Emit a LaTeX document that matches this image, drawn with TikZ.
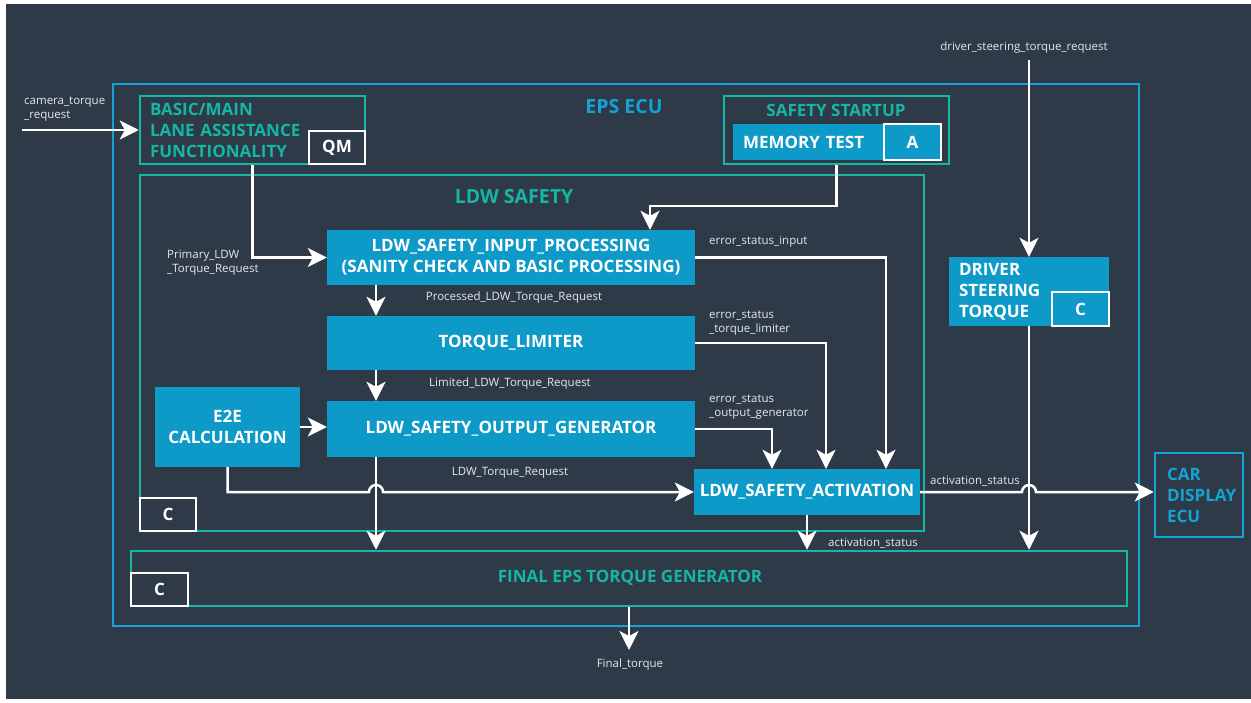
\documentclass[tikz,border=0pt]{standalone}
\usepackage{fontspec}
\setmainfont{Open Sans}
\usetikzlibrary{arrows.meta}
\pgfdeclarelayer{bg}
\pgfsetlayers{bg,main}
\definecolor{slate}{HTML}{2E3A48}
\definecolor{ecublue}{HTML}{13A3D5}
\definecolor{tealc}{HTML}{16B6A4}
\definecolor{fillblue}{HTML}{0E9AC8}
\definecolor{sigc}{HTML}{E6E8EA}
\newcommand{\blockfont}{\fontsize{17}{21}\selectfont\bfseries}
\newcommand{\headfont}{\fontsize{19.5}{23}\selectfont\bfseries}
\newcommand{\sigfont}{\fontsize{11.5}{14}\selectfont}
\tikzset{
  block/.style={fill=fillblue, text=white, font=\blockfont, inner sep=0pt, align=center},
  frame/.style={draw=tealc, line width=2.5pt, inner sep=0pt},
  ecuframe/.style={draw=ecublue, line width=2.5pt, inner sep=0pt},
  title/.style={text=tealc, font=\blockfont, inner sep=0pt},
  grade/.style={draw=white, line width=2.5pt, text=white, font=\blockfont, inner sep=0pt},
  sig/.style={text=sigc, font=\sigfont, inner sep=0pt, align=left},
  wire/.style={draw=white, line width=2.5pt, -{Stealth[length=19pt,width=19pt,inset=5pt]}},
}
\begin{document}
\begin{tikzpicture}[x=1pt, y=-1pt]
        \useasboundingbox (0,0) rectangle (1251,703);
        \begin{pgfonlayer}{bg}
                \fill[slate] (6,4) rectangle (1251,699);
        \end{pgfonlayer}
        % outer ECU and containers
        \node (eps) [ecuframe, minimum width=1026pt, minimum height=542pt] at (626,355) {};
        \node (epst) [text=ecublue, font=\headfont, inner sep=0pt] at (624,107) {EPS ECU};
        \node (ldw) [frame, minimum width=784pt, minimum height=356pt] at (532,353) {};
        \node (ldwt) [title, font=\headfont] at (514,197) {LDW SAFETY};
        \node (ldwc) [grade, fill=slate, minimum width=56pt, minimum height=33pt] at (168,514.5) {C};
        \node (basic) [frame, minimum width=225pt, minimum height=68pt, text width=205pt, align=left, text=tealc, font=\blockfont] at (252.5,130) {BASIC/MAIN\\LANE ASSISTANCE\\FUNCTIONALITY};
        \node (qm) [grade, fill=slate, minimum width=56pt, minimum height=33pt] at (337,147.5) {QM};
        \node (startup) [frame, minimum width=225pt, minimum height=68pt] at (836.5,130) {};
        \node (startupt) [title] at (836,110) {SAFETY STARTUP};
        \node (memtest) [block, minimum width=208pt, minimum height=36pt, text width=188pt, align=left] at (837,142) {MEMORY TEST};
        \node (mema) [grade, fill=fillblue, minimum width=57pt, minimum height=36pt] at (912.5,142) {A};
        % ldw safety blocks
        \node (inp) [block, minimum width=368pt, minimum height=55pt] at (511,257.5) {LDW\_SAFETY\_INPUT\_PROCESSING\\(SANITY CHECK AND BASIC PROCESSING)};
        \node (lim) [block, minimum width=368pt, minimum height=54pt] at (511,343) {TORQUE\_LIMITER};
        \node (outg) [block, minimum width=368pt, minimum height=56pt] at (511,429) {LDW\_SAFETY\_OUTPUT\_GENERATOR};
        \node (e2e) [block, minimum width=145pt, minimum height=80pt] at (227.5,427) {E2E\\CALCULATION};
        \node (act) [block, minimum width=226pt, minimum height=46pt] at (807,492) {LDW\_SAFETY\_ACTIVATION};
        % driver side and outputs
        \node (dst) [block, minimum width=160pt, minimum height=69pt, text width=140pt, align=left] at (1029,291.5) {DRIVER\\STEERING\\TORQUE};
        \node (dstc) [grade, fill=fillblue, minimum width=57pt, minimum height=34pt] at (1080.5,309) {C};
        \node (fin) [frame, minimum width=996pt, minimum height=55pt] at (629,578.5) {};
        \node (fint) [title] at (630,578) {FINAL EPS TORQUE GENERATOR};
        \node (finc) [grade, fill=slate, minimum width=57pt, minimum height=33pt] at (159.5,589.5) {C};
        \node (car) [ecuframe, minimum width=88pt, minimum height=84pt, text width=64pt, align=left, text=ecublue, font=\blockfont] at (1199,495) {CAR\\DISPLAY\\ECU};
        % signal names
        \node (s1) [sig, anchor=west] at (24,109.5) {camera\_torque\\\_request};
        \node (s2) [sig] at (1024,48) {driver\_steering\_torque\_request};
        \node (s3) [sig, anchor=west] at (167,263) {Primary\_LDW\\\_Torque\_Request};
        \node (s4) [sig, anchor=west] at (709,242) {error\_status\_input};
        \node (s5) [sig, anchor=west] at (709,323) {error\_status\\\_torque\_limiter};
        \node (s6) [sig, anchor=west] at (709,407) {error\_status\\\_output\_generator};
        \node (s7) [sig] at (514,298) {Processed\_LDW\_Torque\_Request};
        \node (s8) [sig] at (510,384) {Limited\_LDW\_Torque\_Request};
        \node (s9) [sig] at (510,473) {LDW\_Torque\_Request};
        \node (s10) [sig, anchor=west] at (930,481) {activation\_status};
        \node (s11) [sig, anchor=west] at (828,543) {activation\_status};
        \node (s12) [sig] at (630,665) {Final\_torque};
        \coordinate (cam) at (22,130);
        \coordinate (drv) at (1029,60);
        \coordinate (ftq) at (629,650);
        \coordinate (h1) at (376,492);
        \coordinate (h2) at (1029,492);
        % connectors
        \draw [wire] (cam) -- (basic.west);
        \draw [wire] (drv) -- (dst.north);
        \draw [wire] (basic.south) |- (inp.west);
        \draw [wire] (startup.south) -- ++(0,41) -| ([xshift=139pt]inp.north);
        \draw [wire] ([xshift=-135pt]inp.south) -- ([xshift=-135pt]lim.north);
        \draw [wire] ([xshift=-135pt]lim.south) -- ([xshift=-135pt]outg.north);
        \draw [wire] (e2e.east) -- (e2e.east -| outg.west);
        \draw [wire] (inp.east) -| ([xshift=79pt]act.north);
        \draw [wire] (lim.east) -| ([xshift=19pt]act.north);
        \draw [wire] (outg.east) -| ([xshift=-35pt]act.north);
        \draw [wire] ([xshift=-135pt]outg.south) -- ([xshift=-135pt]outg.south |- fin.north);
        \draw [wire] (e2e.south) |- ([xshift=-7pt]h1) arc[start angle=180, end angle=0, radius=7pt] -- (act.west);
        \draw [wire] (act.east) -- ([xshift=-7pt]h2) arc[start angle=180, end angle=0, radius=7pt] -- (act.east -| car.west);
        \draw [wire] (act.south) -- (act.south |- fin.north);
        \draw [wire] (dst.south) -- (dst.south |- fin.north);
        \draw [wire] (fin.south) -- (ftq);
\end{tikzpicture}
\end{document}
